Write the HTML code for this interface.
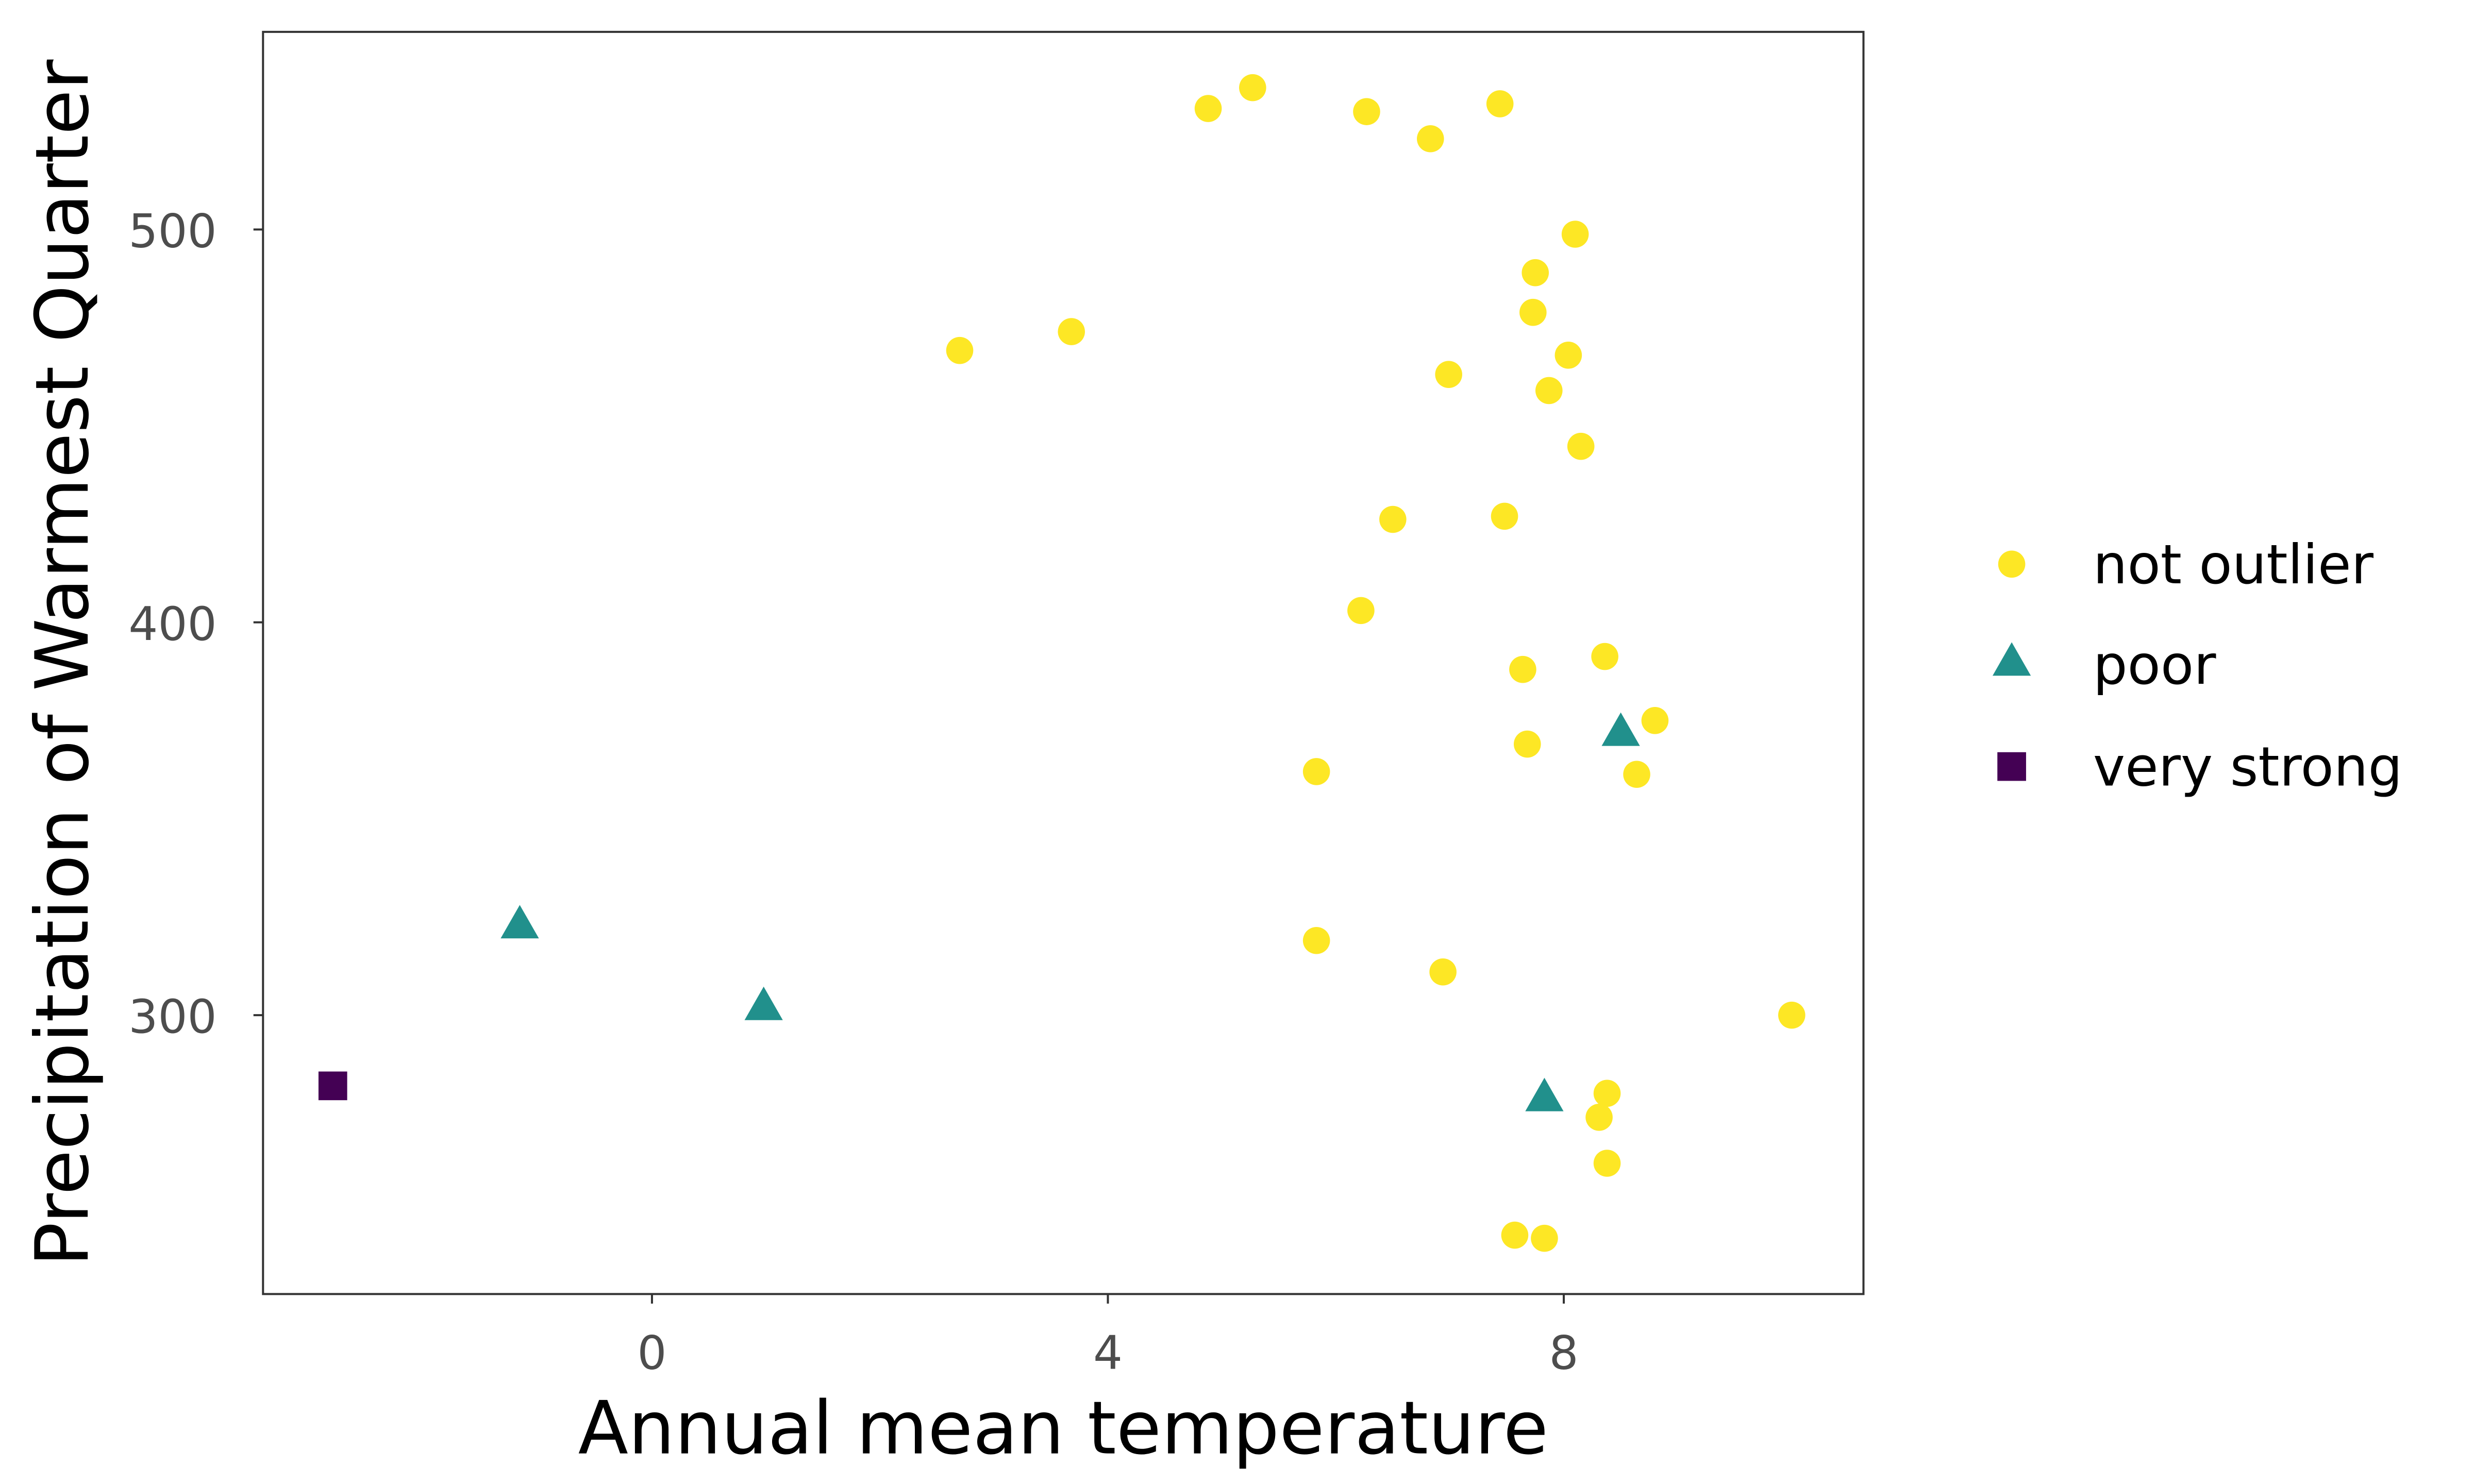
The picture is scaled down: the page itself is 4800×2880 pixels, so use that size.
<!DOCTYPE html>
<html><head><meta charset="utf-8"><style>html,body{margin:0;padding:0;background:#fff}svg{display:block}</style></head>
<body>
<svg id="chart" width="4800" height="2880" viewBox="0 0 1552 931.2" xmlns="http://www.w3.org/2000/svg" font-family="'DejaVu Sans','Liberation Sans',sans-serif">
<rect x="0" y="0" width="1552" height="931.2" fill="#fff"/>
<g id="plot"></g>
</svg>
<script>
const notX=[4.88,5.27,6.27,6.83,7.44,8.10,7.75,7.73,8.04,2.70,3.68,6.99,7.87,8.15,6.50,7.48,6.22,8.36,7.64,8.80,7.68,5.83,8.64,5.83,6.94,10.0,8.38,8.31,8.38,7.57,7.83];
const notY=[530.8,536.1,530,523.1,532,498.8,489,478.9,468,469.2,474,463.1,459,444.8,426.2,427,403,391.3,388,375,369,362,361.3,319,311,300,280.1,274,262.3,244,243.2];
const poorX=[8.50,-1.16,0.98,7.83];
const poorY=[373,324,303.2,280];
const strongX=[-2.80];
const strongY=[282];
const xTicks=[0,4,8];
const yTicks=[300,400,500];
const legendLabels=["not outlier","poor","very strong"];

const NS="http://www.w3.org/2000/svg";
const g=document.getElementById('plot');
const L=165,T=20,R=1169,B=812;
const sx=v=>409+(v-0)*71.5;
const sy=v=>144+(500-v)*2.465;
function mk(tag,attrs){const e=document.createElementNS(NS,tag);for(const k in attrs)e.setAttribute(k,attrs[k]);g.appendChild(e);return e;}

const panel=mk('rect',{x:L,y:T,width:R-L,height:B-T,fill:'none',stroke:'#333',"stroke-width":1.3});



xTicks.forEach(t=>{
  const ln=mk('line',{x1:sx(t),x2:sx(t),y1:B,y2:B+6,stroke:'#333',"stroke-width":1.3});
  
  
  const tx=mk('text',{x:sx(t),y:B+47,"text-anchor":"middle","font-size":29,fill:'#4d4d4d'});
  tx.textContent=t;
  
  
});
yTicks.forEach(t=>{
  const ln=mk('line',{x1:L-6,x2:L,y1:sy(t),y2:sy(t),stroke:'#333',"stroke-width":1.3});
  
  
  const tx=mk('text',{x:136,y:sy(t)+11,"text-anchor":"end","font-size":29,fill:'#4d4d4d'});
  tx.textContent=t;
  
  
});

const xt=mk('text',{x:(L+R)/2,y:912,"text-anchor":"middle","font-size":46,fill:'#000'});
xt.textContent='Annual mean temperature';


const yt=mk('text',{x:0,y:0,"text-anchor":"middle","font-size":46,fill:'#000',transform:`translate(55,${(T+B)/2}) rotate(-90)`});
yt.textContent='Precipitation of Warmest Quarter';



function circle(cx,cy,name){const c=mk('circle',{cx:cx,cy:cy,r:8.5,fill:'#FDE725'});}
function tri(cx,cy,name){const s=12;const p=mk('polygon',{points:`${cx},${cy-s} ${cx-s*1.0},${cy+s*0.75} ${cx+s*1.0},${cy+s*0.75}`,fill:'#21908C'});}
function sq(cx,cy,name){const s=9;const r=mk('rect',{x:cx-s,y:cy-s,width:2*s,height:2*s,fill:'#440154'});}

notX.forEach((v,i)=>circle(sx(v),sy(notY[i]),'point-not-outlier'));
poorX.forEach((v,i)=>tri(sx(v),sy(poorY[i])+2,'point-poor'));
strongX.forEach((v,i)=>sq(sx(v),sy(strongY[i]),'point-very-strong'));

const ly=[354,417,481];
circle(1262,ly[0],'legend-key-not-outlier');
tri(1262,ly[1]-2,'legend-key-poor');
sq(1262,ly[2],'legend-key-very-strong');
legendLabels.forEach((lab,i)=>{
  const tx=mk('text',{x:1313,y:ly[i]+12,"font-size":34,fill:'#000'});
  tx.textContent=lab;
  
  
});
</script>
</body></html>
